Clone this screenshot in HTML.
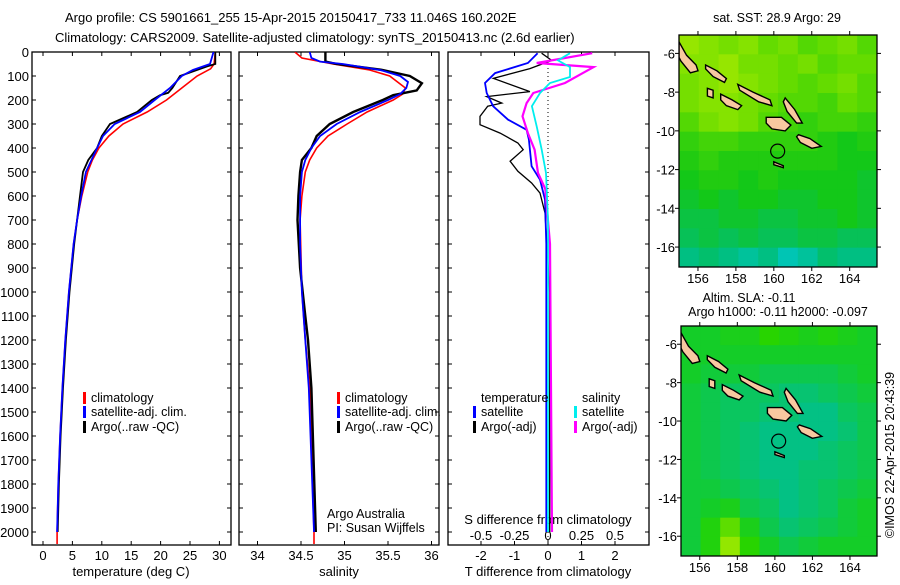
<!DOCTYPE html>
<html><head><meta charset="utf-8"><style>
body{margin:0;background:#fff}
svg text{font-family:"Liberation Sans",Arial,sans-serif;fill:#000}
</style></head><body>
<svg id="c" width="900" height="580" viewBox="0 0 900 580" xmlns="http://www.w3.org/2000/svg">
<text x="65" y="22" font-size="13">Argo profile: CS 5901661_255 15-Apr-2015 20150417_733 11.046S 160.202E</text>
<text x="55" y="42" font-size="13">Climatology: CARS2009. Satellite-adjusted climatology: synTS_20150413.nc (2.6d earlier)</text>
<g id="g"></g>
</svg>
<script>
// ---- data ----
const tClimDepth=[0,50,70,100,150,200,250,300,350,400,450,500,600,700,800,1000,1200,1400,1600,1800,2000,2050];
const tClim=[29.3,29.1,28.5,26.2,23.6,21,17.7,13.6,11.2,9.5,8.4,7.6,6.6,5.8,5.2,4.4,3.8,3.3,2.9,2.6,2.4,2.4];
const tSatDepth=[0,50,75,100,150,200,250,300,350,400,500,600,700,800,1000,1200,1400,1600,1800,2000];
const tSat=[29.0,28.4,25.5,23.6,21.6,19,16.5,12.2,10.2,9.2,7.3,6.5,5.8,5.2,4.4,3.8,3.3,2.9,2.6,2.4];
const tArgoDepth=[0,50,60,100,150,170,180,200,250,300,350,400,450,500,600,700,800,1000,1200,1400,1600,1800,2000];
const tArgo=[29.3,29.3,27.9,23.3,22,21.3,19.9,18.5,16,11.4,10,9.2,7.7,6.8,6.3,5.8,5.3,4.5,3.9,3.4,3.0,2.7,2.5];
const sClimDepth=[0,25,50,75,100,150,175,200,250,300,350,400,450,500,600,700,1000,1200,1400,2000,2050];
const sClim=[34.43,34.51,34.87,35.29,35.52,35.70,35.67,35.56,35.26,35.03,34.81,34.68,34.6,34.55,34.51,34.49,34.51,34.55,34.6,34.65,34.65];
const sSatDepth=[0,25,40,50,75,100,125,150,175,200,250,300,350,400,450,500,600,800,1000,1200,1400,2000];
const sSat=[34.6,34.62,34.72,34.98,35.41,35.64,35.73,35.71,35.64,35.50,35.18,34.91,34.72,34.62,34.55,34.51,34.49,34.49,34.51,34.55,34.59,34.65];
const sArgoDepth=[0,40,50,75,100,130,160,180,200,250,300,350,400,450,500,600,700,900,1100,1200,1400,2000];
const sArgo=[34.78,34.78,34.91,35.44,35.75,35.89,35.83,35.56,35.44,35.1,34.83,34.68,34.62,34.51,34.49,34.47,34.46,34.49,34.55,34.58,34.62,34.67];
const dTSatDepth=[5,46,88,129,171,226,282,324,365,476,532,615,800,2000];
const dTSat=[-0.31,-0.6,-1.58,-1.88,-1.83,-1.64,-1.19,-0.64,-0.57,-0.49,-0.24,-0.09,-0.05,-0.05];
const dTArgoDepth=[5,35,69,110,165,186,213,226,268,303,338,379,407,455,497,546,588,671,1000,2000];
const dTArgo=[-0.19,0.11,-0.54,-1.63,-0.54,-1.83,-1.38,-1.8,-2.03,-2.03,-1.43,-0.9,-0.74,-1.13,-0.9,-0.49,-0.24,-0.09,0.05,0.05];
const dSSatDepth=[5,35,63,104,129,171,226,310,407,504,700,2000];
const dSSat=[0.164,0.075,0.164,0.164,0.015,-0.06,-0.12,-0.084,-0.047,-0.015,0.0,0.0];
const dSArgoDepth=[5,46,63,88,129,171,213,268,338,407,504,571,800,2000];
const dSArgo=[0.33,-0.084,0.34,0.26,0.127,-0.11,-0.16,-0.19,-0.15,-0.1,-0.075,-0.02,0.015,0.03];
const depthTicks=[0,100,200,300,400,500,600,700,800,900,1000,1100,1200,1300,1400,1500,1600,1700,1800,1900,2000];
const tTicks=[0,5,10,15,20,25,30];
const sTicks=[34,34.5,35,35.5,36];
const sTickLabels=["34","34.5","35","35.5","36"];
const dTTicks=[-2,-1,0,1,2];
const dSTicks=[-0.5,-0.25,0,0.25,0.5];
const dSTickLabels=["-0.5","-0.25","0","0.25","0.5"];
const lonTicks=[156,158,160,162,164];
const latTicks=[-6,-8,-10,-12,-14,-16];
// SST grid rows top(-5)→bottom(-17), cols lon 155→165.4
const sstRows=[
[29.4,29.3,29.2,29.3,29.1,29.2,29.0,29.1,29.2,29.0],
[29.3,29.3,29.4,29.2,29.2,29.1,29.2,29.0,29.1,29.1],
[29.2,29.3,29.4,29.3,29.2,29.1,29.0,29.1,29.2,29.0],
[29.2,29.3,29.3,29.2,29.1,29.0,29.0,28.9,29.1,29.0],
[29.0,29.2,29.3,29.2,29.0,28.9,28.8,28.9,28.9,28.8],
[28.8,28.9,28.9,28.8,28.8,28.8,28.8,28.7,28.6,28.7],
[28.7,28.8,28.7,28.7,28.7,28.7,28.7,28.7,28.6,28.6],
[28.6,28.7,28.7,28.6,28.7,28.6,28.6,28.6,28.6,28.5],
[28.5,28.6,28.5,28.6,28.6,28.5,28.5,28.6,28.6,28.5],
[28.4,28.4,28.5,28.5,28.4,28.4,28.5,28.5,28.6,28.5],
[28.3,28.4,28.3,28.4,28.3,28.3,28.4,28.4,28.3,28.3],
[28.1,28.2,28.1,28.0,28.1,27.9,28.0,28.2,28.1,28.1]];
const slaRows=[
[0.0,0.0,0.02,0.02,0.06,0.04,0.02,0.04,0.02,0.0],
[0.0,0.0,0.0,0.0,0.0,0.0,0.0,0.0,0.0,0.0],
[0.0,-0.02,-0.02,-0.02,-0.04,-0.04,-0.04,-0.04,-0.02,0.0],
[-0.02,-0.04,-0.06,-0.06,-0.06,-0.08,-0.08,-0.06,-0.04,-0.02],
[-0.02,-0.04,-0.06,-0.06,-0.08,-0.08,-0.1,-0.1,-0.06,-0.04],
[-0.02,-0.04,-0.06,-0.08,-0.1,-0.1,-0.1,-0.1,-0.08,-0.04],
[-0.02,-0.04,-0.06,-0.08,-0.1,-0.1,-0.1,-0.08,-0.06,-0.04],
[-0.02,-0.04,-0.06,-0.08,-0.1,-0.1,-0.08,-0.08,-0.06,-0.04],
[-0.02,-0.02,-0.04,-0.06,-0.08,-0.1,-0.08,-0.06,-0.04,-0.02],
[-0.02,0.0,0.02,-0.04,-0.06,-0.1,-0.08,-0.06,-0.02,0.0],
[-0.02,0.04,0.08,0.02,-0.04,-0.08,-0.06,-0.04,-0.02,0.0],
[-0.02,0.04,0.1,0.06,0.0,-0.04,-0.02,0.0,0.0,0.0]];
const islands=[
[[155,-5.4],[155.4,-6.1],[155.9,-6.6],[156,-6.9],[155.6,-7],[155.1,-6.4],[155,-6.2]],
[[156.4,-6.6],[157,-6.9],[157.5,-7.3],[157.4,-7.5],[156.8,-7.2],[156.4,-6.8]],
[[158.1,-7.6],[158.9,-8.0],[159.8,-8.4],[159.9,-8.7],[159.2,-8.5],[158.2,-7.9]],
[[157.2,-8.1],[157.8,-8.4],[158.3,-8.7],[158.1,-8.9],[157.5,-8.7],[157.2,-8.4]],
[[156.5,-7.8],[156.8,-7.9],[156.8,-8.3],[156.5,-8.2]],
[[160.6,-8.3],[161.1,-8.9],[161.5,-9.6],[161.2,-9.6],[160.7,-9.0],[160.5,-8.5]],
[[159.6,-9.3],[160.4,-9.3],[160.9,-9.7],[160.6,-10.0],[159.9,-9.9],[159.6,-9.6]],
[[161.3,-10.2],[161.9,-10.4],[162.5,-10.8],[162.0,-10.9],[161.4,-10.6],[161.2,-10.3]],
[[160.0,-11.6],[160.5,-11.8],[160.5,-11.9],[160.0,-11.75]]];
const argoLon=160.202, argoLat=-11.046;

// ---- drawing ----
const NS="http://www.w3.org/2000/svg";
const G=document.getElementById('g');
function el(tag,attrs,parent){const e=document.createElementNS(NS,tag);for(const k in attrs)e.setAttribute(k,attrs[k]);(parent||G).appendChild(e);return e;}
function txt(x,y,s,size,anchor,parent){const t=el('text',{x:x,y:y,'font-size':size||12,'text-anchor':anchor||'start'},parent);t.textContent=s;return t;}
const TOP=52,BOT=545;
const yD=d=>TOP+d*0.24;
const xT=v=>43+v*5.88;
const xS=v=>257.5+(v-34)*87;
const xDT=v=>548+v*33.5;
const xDS=v=>548+v*134;
const panels=[[32,231],[239,439],[448,649]];
panels.forEach((p,i)=>{const cp=el('clipPath',{id:'cp'+i});el('rect',{x:p[0],y:TOP,width:p[1]-p[0],height:BOT-TOP},cp);});
function line(xs,ds,fx,color,w,clip,name,dash){
  let d='';xs.forEach((v,i)=>{d+=(i?'L':'M')+fx(v).toFixed(1)+','+yD(ds[i]).toFixed(1);});
  const p=el('path',{d:d,fill:'none',stroke:color,'stroke-width':w,'clip-path':'url(#cp'+clip+')'});
  if(dash)p.setAttribute('stroke-dasharray',dash);
  
  
}
panels.forEach((p,i)=>{
  const r=el('rect',{x:p[0],y:TOP,width:p[1]-p[0],height:BOT-TOP,fill:'none',stroke:'#000','stroke-width':1.3});
  
  
  depthTicks.forEach(d=>{el('line',{x1:p[0],x2:p[0]+4,y1:yD(d),y2:yD(d),stroke:'#000'});el('line',{x1:p[1],x2:p[1]-4,y1:yD(d),y2:yD(d),stroke:'#000'});});
});
depthTicks.forEach(d=>{const t=txt(29,yD(d)+5,String(d),13,'end');});
function xticks(ticks,labels,fx,labY){ticks.forEach((v,k)=>{const x=fx(v);el('line',{x1:x,x2:x,y1:BOT,y2:BOT-4,stroke:'#000'});el('line',{x1:x,x2:x,y1:TOP,y2:TOP+4,stroke:'#000'});
  if(labels){const t=txt(x,labY,labels[k],13,'middle');}});}
xticks(tTicks,tTicks.map(String),xT,560);
xticks(sTicks,sTickLabels,xS,560);
xticks(dTTicks,dTTicks.map(String),xDT,560);
dSTicks.forEach((v,k)=>{const t=txt(xDS(v),540,dSTickLabels[k],13,'middle');});
let t;
t=txt(131,576,'temperature (deg C)',13,'middle');
t=txt(339,576,'salinity',13,'middle');
t=txt(548,576,'T difference from climatology',13,'middle');
t=txt(548,524,'S difference from climatology',13,'middle');
el('line',{x1:548,x2:548,y1:TOP,y2:BOT,stroke:'#000','stroke-dasharray':'1,3'});
line(tClim,tClimDepth,xT,'#f00',1.6,0,'temp-climatology-line');
line(tArgo,tArgoDepth,xT,'#000',1.8,0,'temp-argo-line');
line(tSat,tSatDepth,xT,'#00f',1.8,0,'temp-satellite-line');
line(sClim,sClimDepth,xS,'#f00',1.6,1,'sal-climatology-line');
line(sArgo,sArgoDepth,xS,'#000',2.4,1,'sal-argo-line');
line(sSat,sSatDepth,xS,'#00f',1.8,1,'sal-satellite-line');
line(dTArgo,dTArgoDepth,xDT,'#000',1.3,2,'tdiff-argo-line');
line(dTSat,dTSatDepth,xDT,'#00f',1.8,2,'tdiff-satellite-line');
line(dSArgo,dSArgoDepth,xDS,'#f0f',2.2,2,'sdiff-argo-line');
line(dSSat,dSSatDepth,xDS,'#0ee',1.8,2,'sdiff-satellite-line');
function leg(x,y,color,label,name){el('rect',{x:x,y:y-10,width:3,height:12,fill:color});const t=txt(x+8,y,label,12.5);}
leg(83,402,'#f00','climatology','legend-temp-climatology');
leg(83,416,'#00f','satellite-adj. clim.','legend-temp-satellite');
leg(83,431,'#000','Argo(..raw -QC)','legend-temp-argo');
leg(337,402,'#f00','climatology','legend-sal-climatology');
leg(337,416,'#00f','satellite-adj. clim.','legend-sal-satellite');
leg(337,431,'#000','Argo(..raw -QC)','legend-sal-argo');
t=txt(481,402,'temperature',12.5);
t=txt(582,402,'salinity',12.5);
leg(473,416,'#00f','satellite','legend-tdiff-satellite');
leg(473,431,'#000','Argo(-adj)','legend-tdiff-argo');
leg(574,416,'#0ee','satellite','legend-sdiff-satellite');
leg(574,431,'#f0f','Argo(-adj)','legend-sdiff-argo');
t=txt(327,518,'Argo Australia',12.5);
t=txt(327,532,'PI: Susan Wijffels',12.5);

// ---- maps ----
function lerpC(stops,t){t=Math.max(0,Math.min(1,t));for(let i=1;i<stops.length;i++){if(t<=stops[i][0]){const a=stops[i-1],b=stops[i],f=(t-a[0])/(b[0]-a[0]);const c=[0,1,2].map(k=>Math.round(a[1][k]+(b[1][k]-a[1][k])*f));return 'rgb('+c.join(',')+')';}}return 'rgb('+stops[stops.length-1][1].join(',')+')';}
const sstStops=[[0,[0,48,224]],[0.2,[0,200,210]],[0.35,[0,190,120]],[0.55,[20,200,20]],[0.75,[100,220,0]],[1,[200,240,0]]];
const slaStops=[[0,[0,190,150]],[0.5,[20,205,40]],[0.75,[40,212,0]],[1,[200,240,0]]];
function drawMap(x0,y0,x1,y1,rows,cfn,name){
  const lon0=155,lon1=165.44,lat0=-5.05,lat1=-17.03;
  const fx=lo=>x0+(lo-lon0)/(lon1-lon0)*(x1-x0);
  const fy=la=>y0+(la-lat0)/(lat1-lat0)*(y1-y0);
  const cid='clip'+name;const cp=el('clipPath',{id:cid});el('rect',{x:x0,y:y0,width:x1-x0,height:y1-y0},cp);
  const g=el('g',{'clip-path':'url(#'+cid+')'});
  
  
  const nr=rows.length,nc=rows[0].length,cw=(x1-x0)/nc,ch=(y1-y0)/nr;
  rows.forEach((row,r)=>row.forEach((v,c)=>{const rc=el('rect',{x:x0+c*cw,y:y0+r*ch,width:cw+0.6,height:ch+0.6,fill:cfn(v)},g);
    
    }));
  islands.forEach(poly=>{const p=el('polygon',{points:poly.map(q=>fx(q[0]).toFixed(1)+','+fy(q[1]).toFixed(1)).join(' '),fill:'#f8c8a0',stroke:'#000','stroke-width':1.4},g);
    
    });
  const c=el('circle',{cx:fx(argoLon),cy:fy(argoLat),r:7,fill:'none',stroke:'#000','stroke-width':1.2});
  
  
  const fr=el('rect',{x:x0,y:y0,width:x1-x0,height:y1-y0,fill:'none',stroke:'#000','stroke-width':1.3});
  
  
  lonTicks.forEach(lo=>{const x=fx(lo);el('line',{x1:x,x2:x,y1:y1,y2:y1+4,stroke:'#000'});el('line',{x1:x,x2:x,y1:y0,y2:y0-4,stroke:'#000'});
    const tt=txt(x,y1+16,String(lo),13,'middle');});
  latTicks.forEach(la=>{const y=fy(la);el('line',{x1:x0,x2:x0-4,y1:y,y2:y,stroke:'#000'});el('line',{x1:x1,x2:x1+4,y1:y,y2:y,stroke:'#000'});
    const tt=txt(x0-4,y+5,String(la),13,'end');});
}
drawMap(679,35,877,267,sstRows,v=>lerpC(sstStops,(v-27.3)/2.4),'sst-map');
drawMap(681,326,877,556,slaRows,v=>lerpC(slaStops,(v+0.12)/0.24),'sla-map');
t=txt(777,22,'sat. SST: 28.9 Argo: 29',12.5,'middle');
t=txt(749,302,'Altim. SLA: -0.11',12.5,'middle');
t=txt(778,316,'Argo h1000: -0.11 h2000: -0.097',12.5,'middle');
t=txt(0,0,'©IMOS 22-Apr-2015 20:43:39',12.5,'middle');t.setAttribute('transform','translate(894,455) rotate(-90)');


</script>
</body></html>
